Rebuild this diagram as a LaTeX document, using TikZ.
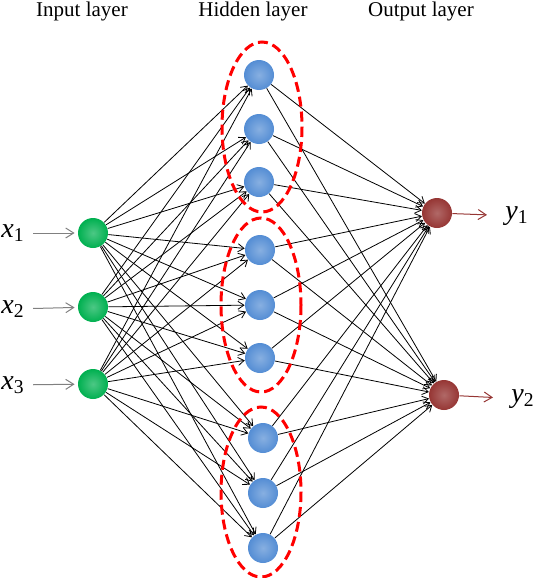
\documentclass[tikz,border=0pt]{standalone}
\usepackage{fontspec}
\setmainfont{Liberation Serif}
\usetikzlibrary{arrows.meta}
\definecolor{inputgreen}{RGB}{0,176,80}
\definecolor{hiddenblue}{RGB}{84,141,212}
\definecolor{outputred}{RGB}{150,54,52}
\definecolor{signalgray}{RGB}{128,128,128}
\definecolor{groupred}{RGB}{255,0,0}
\tikzset{
  neuron/.style={circle, minimum size=15pt, inner sep=0pt, shading=radial},
  innode/.style={neuron, inner color=inputgreen!70!white, outer color=inputgreen},
  hidnode/.style={neuron, inner color=hiddenblue!70!white, outer color=hiddenblue},
  outnode/.style={neuron, inner color=outputred!75!white, outer color=outputred},
  link/.style={line width=0.4pt, -{Straight Barb[length=3pt,width=4pt]}},
  insignal/.style={signalgray, line width=0.5pt, -{Straight Barb[length=4pt,width=5pt]}},
  outsignal/.style={outputred, line width=0.5pt, -{Straight Barb[length=4pt,width=5pt]}},
  group/.style={groupred, line width=1.5pt, dash pattern=on 5pt off 2.5pt},
  layertitle/.style={font=\fontsize{10.5}{12}\selectfont},
  varlabel/.style={font=\fontsize{14}{16}\selectfont, inner sep=1pt}
}
\begin{document}
\begin{tikzpicture}[x=0.5pt, y=-0.5pt]
\useasboundingbox (0,0) rectangle (534,578);
% layer titles
\node[layertitle] (tin) at (82,11) {Input layer};
\node[layertitle] (thid) at (253,11) {Hidden layer};
\node[layertitle] (tout) at (421,11) {Output layer};
% input layer
\node[innode] (i1) at (93,233) {};
\node[innode] (i2) at (93,307) {};
\node[innode] (i3) at (93,384) {};
% hidden layer
\node[hidnode] (h1) at (259,75) {};
\node[hidnode] (h2) at (259,129) {};
\node[hidnode] (h3) at (259,182) {};
\node[hidnode] (h4) at (260,250) {};
\node[hidnode] (h5) at (260,305) {};
\node[hidnode] (h6) at (260,358) {};
\node[hidnode] (h7) at (263,438) {};
\node[hidnode] (h8) at (263,493) {};
\node[hidnode] (h9) at (263,548) {};
% output layer
\node[outnode] (o1) at (437,213) {};
\node[outnode] (o2) at (444,395) {};
% inputs and outputs
\node[varlabel] (x1) at (13,233) {\textit{x}\textsubscript{1}};
\node[varlabel] (x2) at (13,309) {\textit{x}\textsubscript{2}};
\node[varlabel] (x3) at (13,385) {\textit{x}\textsubscript{3}};
\node[varlabel] (y1) at (517,216) {\textit{y}\textsubscript{1}};
\node[varlabel] (y2) at (523,399) {\textit{y}\textsubscript{2}};
\draw[insignal, shorten <=3pt, shorten >=1.5pt] (x1) -- (i1);
\draw[insignal, shorten <=3pt, shorten >=1.5pt] (x2) -- (i2);
\draw[insignal, shorten <=3pt, shorten >=1.5pt] (x3) -- (i3);
\draw[outsignal, shorten >=8pt] (o1) -- (y1);
\draw[outsignal, shorten >=8pt] (o2) -- (y2);
% connections
\foreach \a in {1,2,3}
  \foreach \b in {1,...,9}
    \draw[link] (i\a) -- (h\b);
\foreach \b in {1,...,9}
  \foreach \c in {1,2}
    \draw[link] (h\b) -- (o\c);
% hidden groups
\draw[group] (262,127) ellipse [x radius=40, y radius=85];
\draw[group] (261,305) ellipse [x radius=40, y radius=87];
\draw[group] (261,492) ellipse [x radius=40, y radius=85];
\end{tikzpicture}
\end{document}
